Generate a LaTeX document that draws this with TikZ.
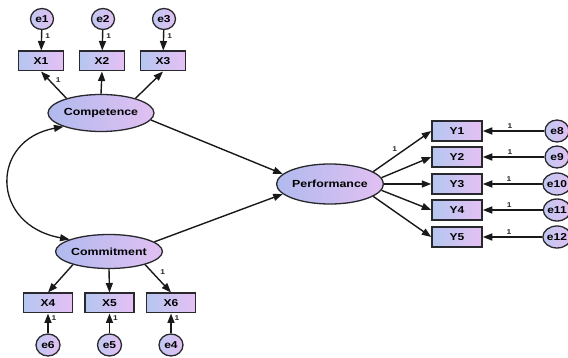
\documentclass[tikz,border=0pt]{standalone}
\usepackage{fontspec}
\setmainfont{Liberation Sans}[FakeStretch=1.2]
\usetikzlibrary{shapes.geometric,arrows.meta}
\definecolor{lblue}{RGB}{180,198,240}
\definecolor{lpink}{RGB}{230,192,244}
\definecolor{eblue}{RGB}{176,186,238}
\definecolor{epink}{RGB}{226,192,242}
\definecolor{bord}{RGB}{40,40,45}
\tikzset{
  obs/.style={rectangle, draw=bord, line width=1.5pt, left color=lblue, right color=lpink,
    minimum width=47pt, minimum height=19.5pt, inner sep=0pt, font=\bfseries\fontsize{10}{12}\selectfont},
  lat/.style={ellipse, draw=bord, line width=1.3pt, left color=eblue, right color=epink,
    minimum width=104pt, minimum height=36pt, inner sep=0pt, font=\bfseries\fontsize{10.3}{12}\selectfont},
  err/.style={ellipse, draw=bord, line width=1.3pt, left color=eblue!80!white, right color=epink,
    minimum width=23pt, minimum height=21pt, inner sep=0pt, font=\bfseries\fontsize{10}{12}\selectfont},
  arr/.style={-{Triangle[length=9.5pt,width=7pt]}, line width=1.4pt, black!90},
  cov/.style={{Triangle[length=9.5pt,width=7pt]}-{Triangle[length=9.5pt,width=7pt]}, line width=1.3pt, black!90},
  lbl/.style={font=\bfseries\fontsize{7}{8}\selectfont, inner sep=1pt, text=black!85}
}
\begin{document}
\begin{tikzpicture}[x=1pt,y=-1pt]
\useasboundingbox (0,0) rectangle (568,358);
% top indicators
\node[err] (e1) at (42,19) {e1};
\node[err] (e2) at (103,19) {e2};
\node[err] (e3) at (164,19) {e3};
\node[obs, minimum width=45pt] (X1) at (41,61) {X1};
\node[obs, minimum width=45pt] (X2) at (102,61) {X2};
\node[obs, minimum width=45pt] (X3) at (163,61) {X3};
\node[lat, minimum width=106pt, minimum height=37pt] (comp) at (101,113) {Competence};
% bottom indicators
\node[lat, minimum width=100pt, minimum height=34pt] (comm) at (109,251.5) {Commitment};
\node[obs, minimum width=49pt] (X4) at (48,303) {X4};
\node[obs, minimum width=49pt] (X5) at (109.5,303) {X5};
\node[obs, minimum width=49pt] (X6) at (171,303) {X6};
\node[err, minimum width=24pt, minimum height=22pt] (e6) at (48,345) {e6};
\node[err, minimum width=24pt, minimum height=22pt] (e5) at (109.5,345) {e5};
\node[err, minimum width=24pt, minimum height=22pt] (e4) at (171,345) {e4};
% performance
\node[lat, minimum width=97pt, minimum height=40pt] (perf) at (330,184) {Performance};
\foreach \i/\y/\e in {1/131/8, 2/157/9, 3/184/10, 4/210/11, 5/237/12}{
  \node[obs, minimum width=50pt, minimum height=20pt] (Y\i) at (457,\y) {Y\i};
  \node[err, minimum width=24pt, minimum height=22pt] (e\e) at (557,\y) {e\e};
}
% error arrows top
\draw[arr] (e1) -- node[lbl, name=l1, pos=0.3, anchor=west, xshift=2pt] {1} (X1);
\draw[arr] (e2) -- node[lbl, name=l2, pos=0.3, anchor=west, xshift=2pt] {1} (X2);
\draw[arr] (e3) -- node[lbl, name=l3, pos=0.3, anchor=west, xshift=2pt] {1} (X3);
% loadings top
\draw[arr] (comp.157) -- node[lbl, name=lx1, pos=0.68, anchor=west, xshift=5pt] {1} (X1.south);
\draw[arr] (comp.north) -- (X2.south);
\draw[arr] (comp.23) -- (X3.south);
% loadings bottom
\draw[arr] (comm.-160) -- (X4.north);
\draw[arr] (comm.south) -- (X5.north);
\draw[arr] (comm.-20) -- node[lbl, name=lx6, pos=0.25, anchor=west, xshift=7pt] {1} (X6.north);
\draw[arr] (e6) -- node[lbl, name=l6, pos=0.75, anchor=west, xshift=2pt] {1} (X4);
\draw[arr] (e5) -- node[lbl, name=l5, pos=0.75, anchor=west, xshift=2pt] {1} (X5);
\draw[arr] (e4) -- node[lbl, name=l4, pos=0.75, anchor=west, xshift=2pt] {1} (X6);
% covariance
\draw[cov] (comp.200) .. controls (-10,140) and (-10,225) .. (comm.163);
% structural paths
\draw[arr] (comp.-8) -- (perf.168);
\draw[arr] (comm.12) -- (perf.192);
% performance loadings
\draw[arr] (perf.16) -- node[lbl, name=ly1, pos=0.44, above left, yshift=1pt] {1} (Y1.west);
\draw[arr] (perf.7) -- (Y2.west);
\draw[arr] (perf.east) -- (Y3.west);
\draw[arr] (perf.-7) -- (Y4.west);
\draw[arr] (perf.-16) -- (Y5.west);
\foreach \i/\e in {1/8, 2/9, 3/10, 4/11, 5/12}{
  \draw[arr] (e\e) -- node[lbl, name=le\e, pos=0.56, above, yshift=1pt] {1} (Y\i);
}
\end{tikzpicture}
\end{document}
